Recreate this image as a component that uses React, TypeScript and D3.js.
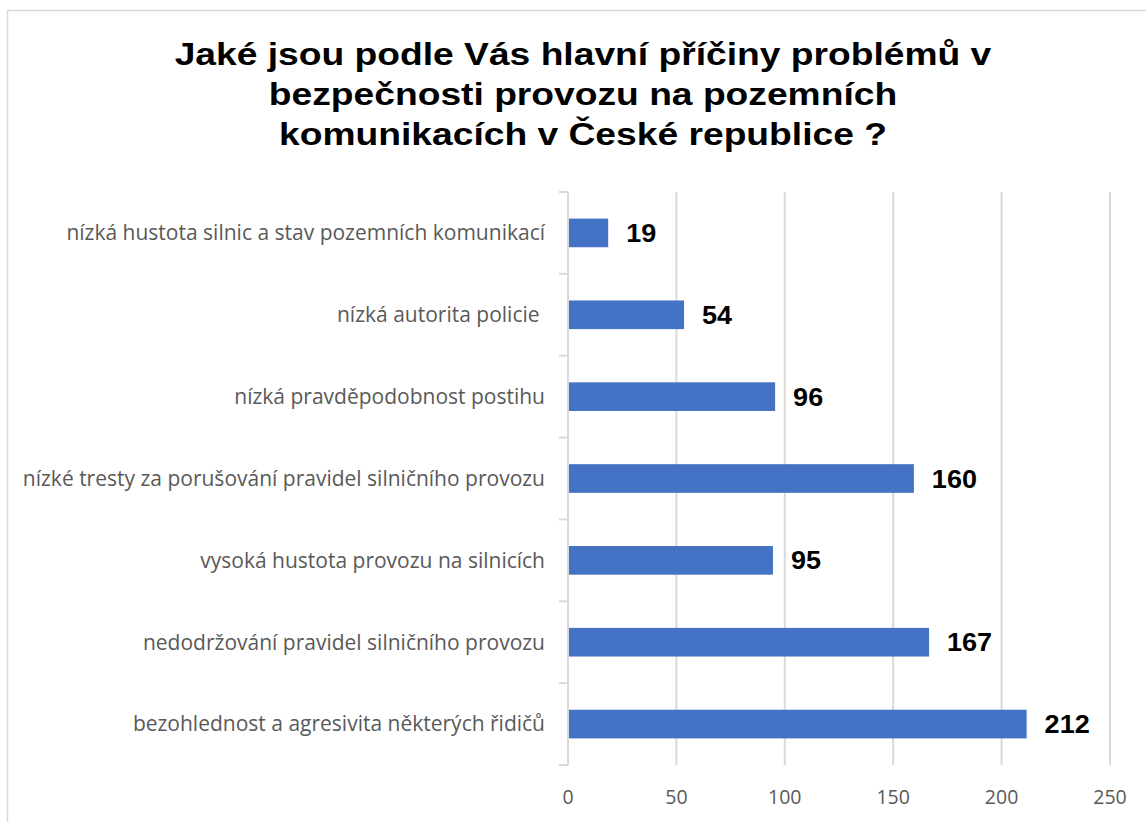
import React, { useRef, useEffect } from 'react';
import * as d3 from 'd3';

const categories = [
  'nízká hustota silnic a stav pozemních komunikací',
  'nízká autorita policie ',
  'nízká pravděpodobnost postihu',
  'nízké tresty za porušování pravidel silničního provozu',
  'vysoká hustota provozu na silnicích',
  'nedodržování pravidel silničního provozu',
  'bezohlednost a agresivita některých řidičů',
];
const values = [19, 54, 96, 160, 95, 167, 212];
const xTicks = [0, 50, 100, 150, 200, 250];
const titleLines = [
  'Jaké jsou podle Vás hlavní příčiny problémů v',
  'bezpečnosti provozu na pozemních',
  'komunikacích v České republice ?',
];

// widen text horizontally (the reference glyphs are stretched)
function stretch(sel: d3.Selection<SVGTextElement, any, any, any>, factor: number) {
  sel.each(function () {
    const w = this.getComputedTextLength();
    d3.select(this).attr('textLength', w * factor).attr('lengthAdjust', 'spacingAndGlyphs');
  });
}

const App: React.FC = () => {
  const svgRef = useRef<SVGSVGElement>(null);

  useEffect(() => {
    const width = 1146, height = 822;
    const svg = d3.select(svgRef.current as SVGSVGElement);
    svg.selectAll('*').remove();

    const left = 568, right = 1110, top = 192, bottom = 765;
    const x = d3.scaleLinear().domain([0, 250]).range([left, right]);
    const y = d3.scaleBand<string>().domain(categories).range([top, bottom]).paddingInner(0.65).paddingOuter(0.325);
    const band = d3.scaleBand<string>().domain(categories).range([top, bottom]);

    // chart frame
    svg.append('rect')
      .attr('x', 7.5).attr('y', 10.5)
      .attr('width', width + 10).attr('height', height + 10)
      .attr('fill', '#fff').attr('stroke', '#d9d9d9').attr('stroke-width', 1.5);

    // title
    const title = svg.append('g').selectAll<SVGTextElement, string>('text')
      .data(titleLines)
      .join('text')
      .attr('x', 583)
      .attr('y', (_, i) => 65 + i * 40)
      .attr('text-anchor', 'middle')
      .attr('font-family', '"Liberation Sans", Arial, sans-serif')
      .attr('font-weight', 'bold')
      .attr('font-size', 31)
      .attr('fill', '#000')
      .text(d => d);
    stretch(title, 1.2);

    // gridlines
    svg.append('g').selectAll('line')
      .data(xTicks.slice(1))
      .join('line')
      .attr('x1', d => x(d)).attr('x2', d => x(d))
      .attr('y1', top).attr('y2', bottom)
      .attr('stroke', '#d9d9d9').attr('stroke-width', 2);

    // y axis line + ticks
    const axis = svg.append('g').attr('stroke', '#d9d9d9').attr('stroke-width', 2);
    axis.append('line').attr('x1', left).attr('x2', left).attr('y1', top).attr('y2', bottom);
    const edges = categories.map(c => band(c) as number).concat([bottom]);
    axis.selectAll('line.tick')
      .data(edges)
      .join('line')
      .attr('class', 'tick')
      .attr('x1', left - 9).attr('x2', left)
      .attr('y1', d => d).attr('y2', d => d);

    // bars
    svg.append('g').selectAll('rect')
      .data(values)
      .join('rect')
      .attr('x', x(0) + 1)
      .attr('y', (_, i) => y(categories[i]) as number)
      .attr('width', d => x(d) - x(0) - 2)
      .attr('height', y.bandwidth())
      .attr('fill', '#4472c4');

    // value labels
    const vals = svg.append('g').selectAll<SVGTextElement, number>('text')
      .data(values)
      .join('text')
      .attr('x', d => x(d) + 17)
      .attr('y', (_, i) => (y(categories[i]) as number) + y.bandwidth() / 2)
      .attr('dy', '0.36em')
      .attr('font-family', '"Liberation Sans", Arial, sans-serif')
      .attr('font-weight', 'bold')
      .attr('font-size', 25)
      .attr('fill', '#000')
      .text(d => d);
    stretch(vals, 1.08);

    // category labels
    svg.append('g').selectAll('text')
      .data(categories)
      .join('text')
      .attr('x', 545)
      .attr('y', d => (y(d) as number) + y.bandwidth() / 2)
      .attr('dy', '0.35em')
      .attr('text-anchor', 'end')
      .attr('font-family', '"Open Sans", sans-serif')
      .attr('font-size', 21)
      .attr('fill', '#595959')
      .attr('xml:space', 'preserve')
      .text(d => d);

    // x tick labels
    svg.append('g').selectAll('text')
      .data(xTicks)
      .join('text')
      .attr('x', d => x(d))
      .attr('y', 797)
      .attr('dy', '0.35em')
      .attr('text-anchor', 'middle')
      .attr('font-family', '"Open Sans", sans-serif')
      .attr('font-size', 19.5)
      .attr('fill', '#595959')
      .text(d => d);
  }, []);

  return <svg ref={svgRef} width={1146} height={822} style={{ position: 'absolute', left: 0, top: 0, background: '#fff' }} />;
};

export default App;
